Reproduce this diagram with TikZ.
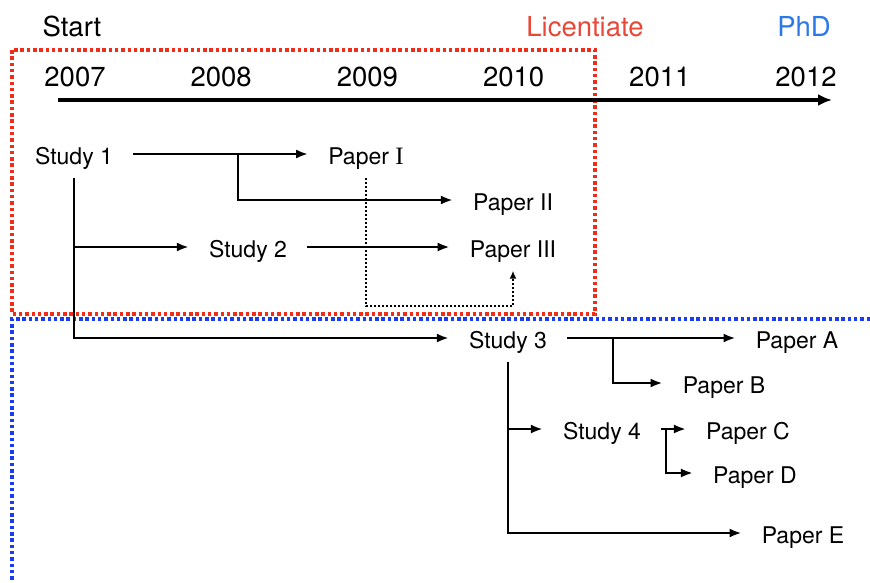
\documentclass[tikz,border=0pt]{standalone}
\usepackage{fontspec}
\setmainfont{TeX Gyre Heros}
\newfontfamily\romanfont{Liberation Serif}
\usetikzlibrary{arrows.meta}

\definecolor{licred}{RGB}{240,45,25}
\definecolor{phdblue}{RGB}{25,60,240}
\definecolor{lictext}{RGB}{232,72,56}
\definecolor{phdtext}{RGB}{45,120,232}

\tikzset{
  heading/.style={anchor=base,font=\fontsize{27.5}{30}\selectfont},
  item/.style={inner xsep=20pt,inner ysep=11pt,text height=23pt,text depth=2pt,
    font=\fontsize{23}{26}\selectfont},
  link/.style={line width=2.5pt,-{Latex[length=12pt,width=9pt]}},
  period/.style={line width=3.5pt,dash pattern=on 3.5pt off 2.8pt},
  hint/.style={line width=2pt,dash pattern=on 2pt off 2pt,-{Latex[length=8pt,width=7pt]}}
}

\begin{document}
\begin{tikzpicture}[x=1pt,y=-1pt]
  \useasboundingbox (0,0) rectangle (870,582);

  % Periods
  \draw[phdblue,period] (870,319) -- (12,319) -- (12,582);
  \draw[licred,period] (12,50) rectangle (595,314);

  % Headings
  \node[heading] (start) at (72,36) {Start};
  \node[heading,lictext] (lic) at (585,36) {Licentiate};
  \node[heading,phdtext] (phd) at (804,36) {PhD};

  % Timeline
  \foreach \yr [count=\i from 0] in {2007,...,2012}
    \node[heading] (y\yr) at (75+146.2*\i,86) {\yr};
  \coordinate (tl0) at (58,100);
  \coordinate (tl1) at (832,100);
  \draw[line width=3.5pt,-{Latex[length=14pt,width=12pt]}] (tl0) -- (tl1);

  % Studies and papers
  \node[item] (s1) at (74,154) {Study 1};
  \node[item] (p1) at (366,154) {Paper {\romanfont\fontsize{25}{26}\selectfont I}};
  \node[item] (p2) at (513,200) {Paper II};
  \node[item] (s2) at (248,247) {Study 2};
  \node[item] (p3) at (513,247) {Paper III};
  \node[item] (s3) at (508,338) {Study 3};
  \node[item] (pa) at (797,338) {Paper A};
  \node[item] (pb) at (724,383) {Paper B};
  \node[item] (s4) at (602,429) {Study 4};
  \node[item] (pc) at (748,429) {Paper C};
  \node[item] (pd) at (755,473) {Paper D};
  \node[item] (pe) at (803,533) {Paper E};

  % Connections
  \coordinate (b1) at (238,154);
  \coordinate (b3) at (613,338);
  \coordinate (b4) at (666,429);
  \draw[link] (s1) -- (p1);
  \draw[link] (b1) |- (p2);
  \draw[link] (s1.south) |- (s2);
  \draw[link] (s1.south) |- (s3);
  \draw[link] (s2) -- (p3);
  \draw[link] (s3) -- (pa);
  \draw[link] (b3) |- (pb);
  \draw[link] (s3.south) |- (s4);
  \draw[link] (s3.south) |- (pe);
  \draw[link] (s4) -- (pc);
  \draw[link] (b4) |- (pd);
  \draw[hint] (p1.south) -- (p1.south |- 0,306) -| (p3.south);
\end{tikzpicture}
\end{document}
